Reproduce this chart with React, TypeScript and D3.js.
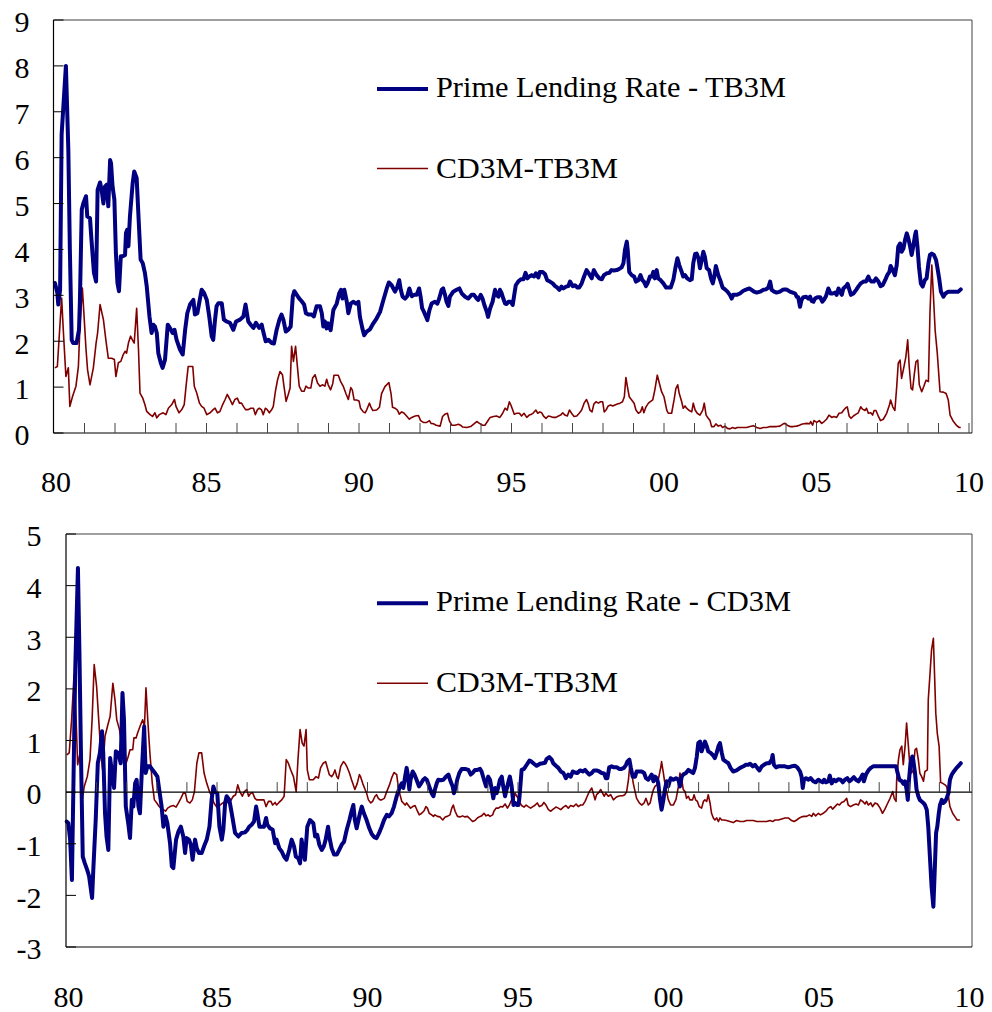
import React from 'react';
import * as d3 from 'd3';

type P = [number, number];

// x = years since January 1980, y = percentage points
const primeMinusTb3m: P[] = [
  [0.03,3.27],[0.11,3.05],[0.14,2.8],[0.20,3.12],[0.25,6.5],[0.39,8.0],[0.47,6.17],[0.52,4.0],[0.58,2.03],[0.63,1.96],[0.74,1.96],[0.82,2.25],[0.85,2.9],[0.91,4.87],[0.96,5.0],[1.05,5.16],[1.09,4.72],[1.18,4.68],[1.23,4.2],[1.31,3.49],[1.38,3.3],[1.43,5.3],[1.51,5.46],[1.56,5.3],[1.62,5.0],[1.67,5.37],[1.73,5.41],[1.78,4.94],[1.84,5.95],[1.87,5.88],[1.92,5.37],[1.98,5.08],[2.03,3.92],[2.08,3.27],[2.13,3.09],[2.19,3.85],[2.25,3.85],[2.33,3.88],[2.36,4.36],[2.40,4.43],[2.44,4.07],[2.49,4.72],[2.58,5.45],[2.63,5.7],[2.71,5.56],[2.77,4.72],[2.84,3.78],[2.91,3.7],[2.98,3.49],[3.04,3.2],[3.13,2.54],[3.20,2.18],[3.26,2.36],[3.31,2.32],[3.37,2.18],[3.42,1.74],[3.50,1.53],[3.56,1.42],[3.64,1.6],[3.73,2.36],[3.80,2.29],[3.89,2.18],[3.95,2.25],[4.02,2.03],[4.13,1.82],[4.22,1.71],[4.30,2.25],[4.37,2.61],[4.46,2.8],[4.57,2.9],[4.62,2.58],[4.70,2.61],[4.77,2.87],[4.84,3.12],[4.92,3.05],[5.01,2.9],[5.09,2.54],[5.17,2.11],[5.22,2.03],[5.28,2.47],[5.33,2.76],[5.39,2.83],[5.50,2.83],[5.57,2.47],[5.66,2.43],[5.77,2.40],[5.88,2.25],[5.97,2.43],[6.10,2.47],[6.21,2.54],[6.28,2.80],[6.37,2.43],[6.45,2.36],[6.54,2.29],[6.62,2.40],[6.73,2.29],[6.81,2.36],[6.86,2.21],[6.94,2.00],[7.03,2.03],[7.08,2.00],[7.14,1.96],[7.21,1.95],[7.30,2.25],[7.39,2.47],[7.46,2.58],[7.52,2.47],[7.60,2.21],[7.68,2.25],[7.76,2.32],[7.83,2.98],[7.88,3.09],[7.96,3.01],[8.03,2.94],[8.12,2.87],[8.20,2.80],[8.26,2.61],[8.34,2.58],[8.45,2.58],[8.52,2.54],[8.61,2.76],[8.72,2.76],[8.78,2.61],
  [8.83,2.32],[8.88,2.43],[8.94,2.28],[8.99,2.39],[9.07,2.24],[9.16,2.68],[9.27,2.82],[9.35,3.04],[9.41,3.12],[9.46,2.93],[9.52,3.12],[9.60,2.86],[9.65,2.61],[9.73,2.82],[9.81,2.86],[9.90,2.82],[9.98,2.86],[10.03,2.53],[10.11,2.28],[10.17,2.13],[10.25,2.21],[10.36,2.26],[10.47,2.39],[10.58,2.5],[10.69,2.64],[10.80,2.90],[10.91,3.15],[10.98,3.28],[11.07,3.22],[11.18,3.08],[11.26,3.19],[11.32,3.33],[11.37,3.12],[11.43,2.97],[11.51,2.93],[11.58,2.98],[11.65,3.15],[11.73,2.98],[11.81,3.01],[11.89,3.01],[11.97,3.15],[12.02,2.97],[12.07,2.72],[12.13,2.64],[12.20,2.53],[12.24,2.46],[12.31,2.68],[12.38,2.82],[12.49,2.86],[12.57,2.82],[12.63,2.93],[12.71,3.12],[12.76,3.15],[12.82,3.01],[12.87,2.86],[12.93,2.77],[12.98,2.97],[13.09,3.08],[13.20,3.12],[13.29,3.15],[13.37,3.04],[13.48,2.97],[13.58,2.93],[13.69,3.01],[13.77,3.01],[13.86,2.93],[13.91,2.90],[13.99,3.01],[14.05,2.93],[14.11,2.79],[14.19,2.64],[14.23,2.53],[14.30,2.72],[14.38,2.86],[14.46,3.12],[14.51,3.01],[14.57,2.97],[14.62,3.12],[14.68,3.04],[14.73,2.93],[14.79,2.82],[14.84,2.81],[14.90,2.86],[14.97,2.86],[15.04,2.79],[15.09,3.01],[15.14,3.22],[15.22,3.30],[15.31,3.35],[15.39,3.35],[15.46,3.49],[15.52,3.37],[15.58,3.41],[15.66,3.44],[15.74,3.41],[15.80,3.48],[15.88,3.39],[15.93,3.51],[16.02,3.51],[16.10,3.46],[16.17,3.33],[16.26,3.30],[16.35,3.26],[16.43,3.20],[16.50,3.17],[16.57,3.12],[16.64,3.19],[16.70,3.15],[16.79,3.19],[16.86,3.20],[16.92,3.30],[17.01,3.20],[17.08,3.22],[17.16,3.17],[17.22,3.17],[17.30,3.26],[17.38,3.41],[17.46,3.55],[17.55,3.46],[17.63,3.37],[17.70,3.55],[17.79,3.44],[17.88,3.37],[17.96,3.35],[18.03,3.44],[18.12,3.48],[18.21,3.49],[18.28,3.55],[18.36,3.54],[18.45,3.55],[18.52,3.57],[18.61,3.61],[18.67,3.70],[18.72,3.99],[18.78,4.17],[18.81,3.99],[18.86,3.51],[18.94,3.44],[19.02,3.41],[19.08,3.30],[19.16,3.33],[19.23,3.44],[19.29,3.33],[19.34,3.30],[19.41,3.20],[19.46,3.26],[19.54,3.41],
  [19.60,3.41],[19.65,3.51],[19.70,3.37],[19.76,3.55],[19.81,3.37],[19.89,3.33],[19.98,3.26],[20.07,3.17],[20.14,3.17],[20.22,3.17],[20.31,3.35],[20.38,3.62],[20.44,3.81],[20.50,3.66],[20.58,3.51],[20.63,3.41],[20.69,3.44],[20.76,3.37],[20.85,3.33],[20.91,3.35],[20.96,3.70],[21.02,3.90],[21.07,3.91],[21.13,3.81],[21.18,3.59],[21.235,3.77],[21.29,3.95],[21.34,3.84],[21.40,3.59],[21.48,3.55],[21.54,3.37],[21.60,3.26],[21.65,3.41],[21.70,3.64],[21.78,3.44],[21.86,3.30],[21.92,3.17],[22.00,3.13],[22.08,3.08],[22.16,3.01],[22.22,2.93],[22.27,3.01],[22.38,3.01],[22.49,3.04],[22.60,3.10],[22.71,3.13],[22.80,3.15],[22.87,3.12],[22.95,3.08],[23.04,3.06],[23.15,3.08],[23.26,3.12],[23.34,3.13],[23.42,3.17],[23.48,3.30],[23.53,3.12],[23.61,3.08],[23.69,3.06],[23.80,3.08],[23.89,3.12],[23.97,3.13],[24.04,3.12],[24.13,3.08],[24.22,3.06],[24.30,3.04],[24.35,2.97],[24.40,2.96],[24.46,2.75],[24.51,2.90],[24.57,2.96],[24.66,2.97],[24.73,2.93],[24.79,2.97],[24.84,2.88],[24.90,2.86],[24.95,2.93],[25.03,2.96],[25.12,2.96],[25.19,2.86],[25.25,2.91],[25.31,2.98],[25.39,3.15],[25.46,3.04],[25.53,3.04],[25.61,3.06],[25.66,3.01],[25.72,3.15],[25.77,3.08],[25.83,3.01],[25.88,3.15],[25.97,3.20],[26.02,3.25],[26.08,3.12],[26.13,3.01],[26.21,3.04],[26.30,3.12],[26.37,3.19],[26.45,3.26],[26.54,3.30],[26.62,3.30],[26.70,3.41],[26.75,3.33],[26.81,3.30],[26.88,3.30],[26.95,3.37],[27.03,3.30],[27.10,3.20],[27.17,3.22],[27.25,3.33],[27.32,3.44],[27.39,3.51],[27.43,3.64],[27.50,3.55],[27.57,3.44],[27.63,3.66],[27.68,4.06],[27.74,4.13],[27.79,3.95],[27.85,4.02],[27.90,4.20],[27.96,4.35],[28.01,4.24],[28.07,4.06],[28.12,3.88],[28.17,4.06],[28.23,4.31],[28.26,4.39],[28.31,4.06],[28.36,3.62],[28.42,3.26],[28.48,3.19],[28.55,3.33],[28.61,3.37],[28.67,3.70],[28.72,3.88],[28.78,3.91],[28.85,3.88],[28.92,3.77],[28.96,3.62],[29.03,3.33],[29.08,3.08],[29.16,2.97],[29.23,3.04],[29.32,3.08],[29.43,3.08],[29.54,3.08],[29.65,3.08],[29.73,3.13],
];

const cdMinusTb3mTop: P[] = [
  [0.03,1.42],[0.11,1.45],[0.25,2.94],[0.31,2.18],[0.39,1.23],[0.47,1.42],[0.52,0.58],[0.61,0.8],[0.72,1.02],[0.80,1.45],[0.85,2.32],[0.93,3.16],[0.98,2.61],[1.05,1.82],[1.10,1.38],[1.18,1.05],[1.29,1.42],[1.38,1.96],[1.43,2.18],[1.51,2.8],[1.62,2.47],[1.70,2.03],[1.78,1.63],[1.89,1.63],[1.98,1.6],[2.03,1.23],[2.11,1.53],[2.19,1.56],[2.27,1.71],[2.33,1.78],[2.38,1.74],[2.44,1.96],[2.51,2.11],[2.57,2.03],[2.63,1.96],[2.71,2.72],[2.77,1.82],[2.82,0.87],[2.91,0.76],[2.98,0.62],[3.04,0.47],[3.15,0.4],[3.23,0.36],[3.31,0.44],[3.37,0.33],[3.45,0.4],[3.58,0.44],[3.67,0.40],[3.75,0.54],[3.86,0.62],[3.95,0.73],[4.00,0.58],[4.10,0.44],[4.19,0.51],[4.27,0.62],[4.33,1.02],[4.40,1.45],[4.55,1.45],[4.60,1.02],[4.68,0.87],[4.77,0.65],[4.84,0.58],[4.92,0.54],[5.01,0.40],[5.12,0.44],[5.22,0.51],[5.28,0.54],[5.36,0.44],[5.44,0.47],[5.53,0.62],[5.61,0.73],[5.68,0.84],[5.77,0.73],[5.85,0.62],[5.93,0.73],[6.01,0.76],[6.08,0.65],[6.15,0.65],[6.21,0.58],[6.28,0.51],[6.37,0.51],[6.45,0.54],[6.54,0.54],[6.60,0.40],[6.67,0.51],[6.73,0.54],[6.80,0.51],[6.86,0.40],[6.93,0.54],[6.99,0.51],[7.06,0.44],[7.14,0.51],[7.19,0.58],[7.26,0.91],[7.33,1.16],[7.41,1.34],[7.49,1.27],[7.54,1.02],[7.61,0.69],[7.68,0.84],[7.74,0.98],[7.79,1.89],[7.85,1.56],[7.92,1.89],[7.99,1.38],[8.04,1.02],[8.12,0.91],[8.20,0.91],[8.26,1.02],[8.34,0.98],[8.42,0.98],[8.48,1.2],[8.56,1.27],[8.64,1.09],[8.72,1.02],
  [8.81,1.05],[8.88,1.02],[8.94,1.17],[8.99,1.05],[9.07,0.94],[9.14,1.08],[9.18,1.26],[9.32,1.26],[9.40,1.12],[9.49,1.01],[9.57,0.86],[9.65,0.73],[9.73,0.99],[9.78,0.94],[9.84,0.72],[9.92,0.72],[10.00,0.70],[10.05,0.54],[10.14,0.46],[10.20,0.44],[10.25,0.50],[10.34,0.65],[10.39,0.57],[10.45,0.49],[10.58,0.50],[10.67,0.56],[10.74,0.86],[10.85,1.01],[10.98,1.10],[11.05,0.86],[11.10,0.56],[11.18,0.54],[11.26,0.50],[11.32,0.41],[11.40,0.46],[11.48,0.43],[11.56,0.37],[11.65,0.30],[11.73,0.34],[11.84,0.37],[11.95,0.38],[12.02,0.27],[12.11,0.23],[12.22,0.23],[12.31,0.27],[12.36,0.21],[12.44,0.20],[12.53,0.17],[12.66,0.15],[12.74,0.36],[12.82,0.41],[12.90,0.43],[12.96,0.27],[13.04,0.17],[13.15,0.17],[13.26,0.19],[13.33,0.17],[13.40,0.13],[13.53,0.12],[13.66,0.14],[13.77,0.20],[13.86,0.25],[13.95,0.21],[14.05,0.17],[14.13,0.17],[14.21,0.25],[14.30,0.34],[14.41,0.36],[14.51,0.37],[14.62,0.34],[14.71,0.43],[14.79,0.54],[14.86,0.50],[14.93,0.68],[14.98,0.61],[15.04,0.50],[15.09,0.41],[15.17,0.43],[15.26,0.43],[15.33,0.37],[15.41,0.43],[15.50,0.34],[15.58,0.39],[15.66,0.41],[15.72,0.44],[15.80,0.50],[15.86,0.43],[15.93,0.46],[15.99,0.44],[16.06,0.36],[16.13,0.32],[16.21,0.37],[16.28,0.36],[16.37,0.34],[16.46,0.34],[16.54,0.37],[16.61,0.39],[16.68,0.44],[16.75,0.39],[16.83,0.37],[16.90,0.50],[16.97,0.43],[17.05,0.36],[17.14,0.37],[17.22,0.43],[17.30,0.50],[17.38,0.65],[17.46,0.73],[17.52,0.63],[17.57,0.50],[17.64,0.46],[17.70,0.63],[17.77,0.68],[17.85,0.65],[17.92,0.68],[17.99,0.68],[18.04,0.46],[18.10,0.50],[18.17,0.59],[18.25,0.61],[18.32,0.59],[18.39,0.61],[18.47,0.63],[18.56,0.65],[18.64,0.68],[18.70,0.79],[18.75,1.21],[18.80,1.01],[18.86,0.79],[18.94,0.72],[19.02,0.65],[19.08,0.50],[19.16,0.43],[19.23,0.46],[19.29,0.57],[19.34,0.44],[19.41,0.57],[19.49,0.65],
  [19.54,0.68],[19.63,0.72],[19.70,0.94],[19.78,1.26],[19.85,1.08],[19.92,0.90],[20.00,0.79],[20.09,0.50],[20.14,0.43],[20.25,0.43],[20.33,0.72],[20.39,0.97],[20.45,1.05],[20.50,0.86],[20.58,0.68],[20.63,0.54],[20.69,0.59],[20.74,0.54],[20.83,0.49],[20.91,0.46],[20.96,0.65],[21.02,0.50],[21.09,0.43],[21.18,0.39],[21.27,0.50],[21.32,0.65],[21.38,0.39],[21.45,0.32],[21.51,0.27],[21.56,0.14],[21.64,0.14],[21.70,0.20],[21.78,0.15],[21.86,0.17],[21.92,0.12],[22.00,0.15],[22.08,0.10],[22.16,0.09],[22.25,0.12],[22.33,0.10],[22.40,0.12],[22.49,0.12],[22.60,0.12],[22.71,0.12],[22.82,0.14],[22.93,0.16],[23.04,0.12],[23.15,0.10],[23.26,0.12],[23.37,0.12],[23.48,0.14],[23.58,0.14],[23.69,0.14],[23.80,0.15],[23.91,0.20],[23.97,0.21],[24.04,0.17],[24.13,0.14],[24.24,0.14],[24.35,0.15],[24.44,0.17],[24.51,0.19],[24.59,0.20],[24.68,0.21],[24.77,0.20],[24.81,0.25],[24.87,0.17],[24.92,0.27],[25.01,0.23],[25.09,0.27],[25.17,0.21],[25.25,0.25],[25.33,0.30],[25.41,0.39],[25.50,0.34],[25.57,0.36],[25.66,0.34],[25.74,0.43],[25.83,0.44],[25.88,0.49],[25.96,0.55],[26.01,0.57],[26.07,0.37],[26.13,0.32],[26.21,0.37],[26.30,0.41],[26.37,0.44],[26.45,0.57],[26.51,0.52],[26.59,0.49],[26.64,0.54],[26.70,0.43],[26.78,0.44],[26.84,0.39],[26.89,0.49],[26.95,0.49],[27.03,0.36],[27.10,0.27],[27.19,0.30],[27.30,0.43],[27.39,0.61],[27.43,0.72],[27.50,0.57],[27.57,0.49],[27.63,1.01],[27.68,1.52],[27.74,1.59],[27.79,1.19],[27.87,1.45],[27.93,1.66],[27.99,2.03],[28.04,1.45],[28.10,0.97],[28.15,0.94],[28.21,1.30],[28.26,1.55],[28.32,1.59],[28.37,1.05],[28.45,0.90],[28.52,1.02],[28.59,1.15],[28.67,1.12],[28.72,2.61],[28.78,3.66],[28.83,3.04],[28.89,2.24],[28.96,1.74],[29.05,0.90],[29.16,0.89],[29.25,0.86],[29.32,0.72],[29.38,0.39],[29.49,0.25],[29.60,0.16],[29.68,0.12],[29.73,0.12],
];

const primeMinusCd3m: P[] = [
  [0.01,-0.57],[0.06,-0.60],[0.12,-0.92],[0.18,-1.70],[0.29,2.37],[0.38,4.34],[0.43,2.69],[0.48,0.76],[0.54,-1.25],[0.61,-1.38],[0.69,-1.51],[0.75,-1.63],[0.85,-2.05],[0.89,-1.51],[0.97,-0.54],[1.04,0.56],[1.11,0.76],[1.18,1.18],[1.22,0.76],[1.28,-0.41],[1.33,-0.86],[1.39,-1.12],[1.45,0.66],[1.50,0.43],[1.58,0.08],[1.64,0.79],[1.72,0.76],[1.80,0.56],[1.86,1.92],[1.91,1.40],[1.97,-0.28],[2.05,-0.60],[2.11,-0.89],[2.17,-0.15],[2.22,-0.28],[2.28,0.17],[2.33,0.24],[2.39,-0.28],[2.44,-0.41],[2.50,0.37],[2.58,1.27],[2.63,0.37],[2.69,0.50],[2.77,0.50],[2.86,0.43],[2.94,0.37],[3.02,0.30],[3.08,0.05],[3.16,-0.28],[3.22,-0.67],[3.29,-0.47],[3.35,-0.60],[3.44,-0.99],[3.50,-1.44],[3.55,-1.47],[3.64,-0.92],[3.72,-0.76],[3.80,-0.67],[3.88,-0.86],[3.94,-1.18],[3.99,-0.89],[4.07,-0.92],[4.13,-1.02],[4.19,-1.31],[4.27,-0.92],[4.33,-1.09],[4.40,-1.18],[4.49,-1.18],[4.57,-1.05],[4.66,-0.92],[4.75,-0.67],[4.82,-0.15],[4.88,0.11],[4.93,0.01],[5.01,-0.02],[5.08,-0.67],[5.16,-0.92],[5.21,-0.73],[5.27,-0.21],[5.32,-0.08],[5.41,-0.15],[5.49,-0.41],[5.60,-0.79],[5.71,-0.86],[5.82,-0.79],[5.93,-0.78],[6.01,-0.73],[6.07,-0.67],[6.15,-0.63],[6.23,-0.57],[6.30,-0.28],[6.34,-0.41],[6.41,-0.67],[6.48,-0.67],[6.56,-0.67],[6.63,-0.50],[6.67,-0.63],[6.76,-0.70],[6.85,-0.73],[6.93,-0.99],[6.98,-0.92],[7.07,-1.09],[7.15,-1.15],[7.23,-1.25],[7.31,-1.31],[7.40,-1.12],[7.48,-0.92],[7.56,-1.05],[7.62,-1.25],[7.70,-1.28],[7.76,-1.38],[7.81,-0.92],[7.87,-1.18],[7.92,-1.31],[8.00,-0.67],[8.09,-0.54],[8.20,-0.60],[8.26,-0.86],[8.33,-0.83],[8.40,-1.02],[8.48,-1.12],[8.55,-1.05],[8.61,-0.92],[8.69,-0.67],
  [8.73,-0.86],[8.81,-1.09],[8.89,-1.21],[8.98,-1.21],[9.06,-1.12],[9.14,-1.02],[9.22,-0.96],[9.31,-0.73],[9.40,-0.54],[9.47,-0.37],[9.53,-0.25],[9.58,-0.54],[9.64,-0.70],[9.70,-0.54],[9.75,-0.41],[9.81,-0.28],[9.88,-0.41],[9.97,-0.54],[10.06,-0.70],[10.14,-0.81],[10.22,-0.87],[10.30,-0.89],[10.38,-0.80],[10.47,-0.67],[10.55,-0.54],[10.64,-0.44],[10.71,-0.47],[10.80,-0.41],[10.88,-0.28],[10.97,-0.08],[11.02,0.01],[11.08,0.11],[11.14,0.17],[11.19,0.08],[11.25,0.30],[11.30,0.47],[11.33,0.37],[11.39,0.05],[11.43,0.24],[11.50,0.40],[11.56,0.34],[11.63,0.24],[11.71,0.11],[11.78,0.17],[11.85,0.24],[11.91,0.27],[11.97,0.24],[12.05,0.11],[12.13,-0.02],[12.19,-0.08],[12.24,0.05],[12.30,0.17],[12.35,0.24],[12.43,0.23],[12.52,0.24],[12.61,0.30],[12.69,0.34],[12.76,0.21],[12.83,0.11],[12.87,-0.02],[12.94,0.11],[12.98,0.24],[13.05,0.37],[13.13,0.45],[13.24,0.45],[13.35,0.43],[13.43,0.34],[13.49,0.37],[13.57,0.43],[13.65,0.43],[13.74,0.45],[13.79,0.40],[13.87,0.24],[13.94,0.11],[14.01,0.30],[14.07,0.24],[14.13,0.05],[14.18,-0.12],[14.24,0.08],[14.29,-0.02],[14.35,0.11],[14.40,0.24],[14.46,0.30],[14.51,0.11],[14.57,-0.08],[14.62,0.05],[14.70,0.24],[14.73,0.30],[14.79,0.11],[14.85,-0.25],[14.90,-0.21],[14.96,-0.25],[15.01,-0.25],[15.04,-0.15],[15.07,0.05],[15.12,0.43],[15.20,0.45],[15.29,0.53],[15.38,0.61],[15.45,0.59],[15.53,0.55],[15.62,0.51],[15.73,0.55],[15.82,0.56],[15.90,0.57],[15.95,0.64],[16.04,0.68],[16.12,0.63],[16.17,0.56],[16.26,0.51],[16.34,0.47],[16.42,0.40],[16.51,0.37],[16.59,0.27],[16.67,0.34],[16.75,0.30],[16.82,0.40],[16.89,0.38],[16.97,0.37],[17.06,0.42],[17.15,0.40],[17.23,0.43],[17.30,0.38],[17.37,0.34],[17.45,0.37],[17.52,0.42],[17.61,0.42],[17.70,0.40],[17.78,0.37],[17.86,0.36],[17.92,0.27],[17.97,0.27],[18.03,0.48],[18.11,0.50],[18.19,0.48],[18.28,0.48],[18.37,0.45],[18.44,0.45],[18.52,0.47],[18.59,0.53],[18.63,0.59],[18.70,0.63],[18.75,0.47],[18.81,0.30],[18.89,0.30],[18.94,0.40],[19.03,0.40],[19.11,0.40],[19.19,0.37],[19.25,0.27],[19.33,0.24],
  [19.44,0.34],[19.50,0.21],[19.55,0.30],[19.61,0.27],[19.66,0.17],[19.72,-0.15],[19.77,-0.34],[19.83,-0.15],[19.88,0.05],[19.94,0.21],[19.99,0.11],[20.07,0.27],[20.16,0.24],[20.25,0.27],[20.33,0.24],[20.38,0.11],[20.44,0.30],[20.49,0.34],[20.58,0.37],[20.66,0.43],[20.74,0.40],[20.82,0.37],[20.88,0.47],[20.94,0.69],[20.99,0.95],[21.05,0.98],[21.10,0.79],[21.16,0.89],[21.21,0.98],[21.27,0.89],[21.32,0.79],[21.40,0.76],[21.47,0.72],[21.54,0.66],[21.60,0.76],[21.66,0.89],[21.71,0.95],[21.77,0.76],[21.82,0.63],[21.91,0.59],[21.99,0.56],[22.06,0.47],[22.15,0.40],[22.26,0.42],[22.38,0.47],[22.49,0.50],[22.57,0.53],[22.65,0.53],[22.71,0.55],[22.80,0.50],[22.87,0.53],[22.95,0.47],[23.02,0.42],[23.10,0.50],[23.17,0.53],[23.26,0.56],[23.35,0.56],[23.43,0.63],[23.46,0.72],[23.50,0.53],[23.57,0.48],[23.65,0.50],[23.76,0.50],[23.87,0.50],[23.98,0.48],[24.09,0.50],[24.20,0.51],[24.28,0.48],[24.37,0.40],[24.42,0.30],[24.46,0.08],[24.50,0.24],[24.57,0.27],[24.64,0.24],[24.72,0.27],[24.81,0.21],[24.89,0.19],[24.98,0.24],[25.05,0.21],[25.12,0.19],[25.17,0.24],[25.23,0.19],[25.31,0.21],[25.36,0.32],[25.42,0.17],[25.50,0.24],[25.56,0.21],[25.64,0.25],[25.72,0.24],[25.79,0.19],[25.86,0.24],[25.94,0.27],[26.01,0.21],[26.08,0.24],[26.16,0.29],[26.23,0.24],[26.31,0.21],[26.38,0.27],[26.45,0.34],[26.49,0.21],[26.56,0.34],[26.64,0.42],[26.72,0.47],[26.80,0.50],[26.92,0.50],[27.03,0.50],[27.14,0.50],[27.25,0.50],[27.36,0.50],[27.47,0.50],[27.56,0.50],[27.60,0.40],[27.67,0.24],[27.75,0.21],[27.80,0.16],[27.86,0.21],[27.91,0.05],[27.95,-0.15],[27.99,0.24],[28.04,0.56],[28.10,0.69],[28.13,0.63],[28.19,0.37],[28.24,0.05],[28.30,-0.08],[28.35,-0.15],[28.41,-0.18],[28.47,-0.21],[28.52,-0.25],[28.58,-0.34],[28.63,-0.67],[28.69,-1.31],[28.74,-1.83],[28.80,-2.22],[28.85,-1.44],[28.89,-0.79],[28.93,-0.67],[28.98,-0.41],[29.02,-0.25],[29.08,-0.15],[29.13,-0.21],[29.19,-0.18],[29.24,-0.12],[29.30,-0.02],[29.35,0.24],[29.41,0.34],[29.48,0.40],[29.57,0.47],[29.64,0.51],[29.71,0.56],
];

const cdMinusTb3mBottom: P[] = [
  [0.01,0.72],[0.09,0.76],[0.17,1.40],[0.25,2.27],[0.32,1.40],[0.37,0.53],[0.45,0.76],[0.53,-0.12],[0.59,0.11],[0.69,0.30],[0.78,0.63],[0.85,1.40],[0.92,2.47],[1.00,2.05],[1.07,1.40],[1.14,0.76],[1.20,0.43],[1.28,1.08],[1.36,1.27],[1.45,1.47],[1.54,2.11],[1.61,1.79],[1.67,1.40],[1.76,1.21],[1.83,0.95],[1.91,0.95],[1.98,0.56],[2.05,0.69],[2.11,0.82],[2.20,0.82],[2.24,1.05],[2.31,1.05],[2.36,1.14],[2.44,1.27],[2.53,1.40],[2.59,1.27],[2.64,2.02],[2.70,1.40],[2.77,0.76],[2.85,0.17],[2.92,-0.15],[3.00,-0.21],[3.08,-0.28],[3.22,-0.34],[3.29,-0.37],[3.36,-0.31],[3.44,-0.28],[3.55,-0.26],[3.64,-0.29],[3.72,-0.21],[3.80,-0.12],[3.88,-0.02],[3.95,-0.02],[4.01,-0.18],[4.10,-0.21],[4.18,-0.15],[4.25,0.01],[4.33,0.56],[4.40,0.76],[4.49,0.76],[4.57,0.37],[4.66,0.17],[4.75,0.01],[4.82,-0.08],[4.90,-0.21],[4.99,-0.29],[5.10,-0.25],[5.19,-0.21],[5.29,-0.18],[5.38,-0.21],[5.47,-0.15],[5.54,-0.08],[5.62,-0.05],[5.69,0.14],[5.76,0.01],[5.84,-0.08],[5.91,0.01],[5.99,0.05],[6.05,-0.08],[6.12,-0.02],[6.18,-0.01],[6.26,-0.12],[6.32,-0.15],[6.40,-0.15],[6.48,-0.15],[6.56,-0.15],[6.63,-0.28],[6.71,-0.18],[6.79,-0.18],[6.85,-0.25],[6.93,-0.20],[6.98,-0.25],[7.06,-0.20],[7.15,-0.15],[7.23,-0.08],[7.30,0.63],[7.37,0.56],[7.45,0.43],[7.54,0.30],[7.63,0.01],[7.69,0.63],[7.76,1.21],[7.83,0.95],[7.89,0.89],[7.96,1.21],[8.00,0.43],[8.07,0.24],[8.20,0.24],[8.29,0.30],[8.37,0.27],[8.44,0.47],[8.53,0.56],[8.61,0.59],
  [8.73,0.34],[8.81,0.30],[8.86,0.34],[8.92,0.43],[8.98,0.30],[9.03,0.26],[9.11,0.50],[9.20,0.59],[9.25,0.56],[9.31,0.50],[9.40,0.37],[9.47,0.24],[9.53,0.14],[9.58,0.05],[9.66,0.17],[9.73,0.34],[9.77,0.30],[9.84,0.17],[9.92,0.05],[9.97,-0.02],[10.03,-0.15],[10.11,-0.21],[10.17,-0.18],[10.25,-0.08],[10.30,-0.05],[10.36,-0.12],[10.42,-0.15],[10.47,-0.15],[10.56,-0.12],[10.64,0.01],[10.73,0.14],[10.80,0.27],[10.88,0.38],[10.97,0.34],[11.02,0.11],[11.08,-0.05],[11.14,-0.18],[11.19,-0.21],[11.25,-0.25],[11.30,-0.21],[11.36,-0.26],[11.43,-0.31],[11.50,-0.28],[11.58,-0.26],[11.66,-0.37],[11.72,-0.44],[11.80,-0.41],[11.88,-0.36],[11.94,-0.28],[11.99,-0.31],[12.05,-0.41],[12.13,-0.44],[12.19,-0.47],[12.24,-0.44],[12.32,-0.47],[12.41,-0.48],[12.50,-0.54],[12.58,-0.48],[12.65,-0.47],[12.74,-0.44],[12.80,-0.31],[12.85,-0.25],[12.91,-0.37],[12.99,-0.47],[13.07,-0.48],[13.16,-0.46],[13.24,-0.48],[13.32,-0.47],[13.41,-0.52],[13.49,-0.57],[13.57,-0.55],[13.65,-0.50],[13.74,-0.47],[13.79,-0.46],[13.87,-0.41],[13.94,-0.46],[14.01,-0.44],[14.07,-0.47],[14.16,-0.44],[14.20,-0.37],[14.27,-0.31],[14.35,-0.31],[14.42,-0.28],[14.49,-0.29],[14.57,-0.23],[14.65,-0.31],[14.71,-0.25],[14.79,-0.15],[14.85,-0.18],[14.90,-0.02],[14.96,-0.08],[15.01,-0.12],[15.04,-0.18],[15.12,-0.26],[15.20,-0.29],[15.27,-0.25],[15.34,-0.28],[15.42,-0.31],[15.49,-0.28],[15.55,-0.26],[15.64,-0.21],[15.71,-0.28],[15.79,-0.26],[15.86,-0.20],[15.93,-0.25],[16.01,-0.34],[16.09,-0.37],[16.17,-0.33],[16.26,-0.29],[16.34,-0.31],[16.42,-0.34],[16.51,-0.29],[16.59,-0.26],[16.67,-0.31],[16.75,-0.26],[16.84,-0.28],[16.93,-0.23],[17.00,-0.28],[17.08,-0.25],[17.15,-0.25],[17.23,-0.18],[17.30,-0.08],[17.37,0.01],[17.45,0.08],[17.50,-0.02],[17.56,-0.15],[17.61,-0.05],[17.67,-0.02],[17.75,0.05],[17.81,-0.02],[17.86,-0.08],[17.92,-0.02],[18.00,-0.08],[18.08,-0.05],[18.17,-0.15],[18.26,-0.10],[18.33,-0.08],[18.41,-0.07],[18.48,-0.07],[18.55,-0.05],[18.61,0.01],[18.67,0.24],[18.72,0.56],[18.78,0.37],[18.83,0.17],[18.89,0.01],[18.94,-0.12],[19.03,-0.21],[19.11,-0.25],[19.19,-0.21],[19.25,-0.12],[19.33,-0.25],
  [19.39,-0.21],[19.44,-0.08],[19.50,0.05],[19.55,0.11],[19.61,0.14],[19.66,0.24],[19.74,0.47],[19.77,0.59],[19.83,0.37],[19.88,0.17],[19.94,0.01],[19.99,-0.14],[20.07,-0.25],[20.16,-0.25],[20.25,-0.14],[20.33,0.11],[20.38,0.37],[20.44,0.24],[20.49,0.05],[20.55,0.01],[20.60,-0.12],[20.66,-0.08],[20.71,-0.15],[20.80,-0.15],[20.85,-0.05],[20.90,-0.15],[20.96,-0.18],[21.02,-0.28],[21.10,-0.31],[21.16,-0.18],[21.21,-0.15],[21.27,-0.18],[21.32,-0.05],[21.38,-0.21],[21.43,-0.41],[21.49,-0.50],[21.54,-0.54],[21.60,-0.50],[21.66,-0.57],[21.71,-0.50],[21.77,-0.54],[21.84,-0.54],[21.93,-0.55],[22.04,-0.57],[22.15,-0.59],[22.26,-0.55],[22.38,-0.57],[22.49,-0.57],[22.60,-0.55],[22.71,-0.55],[22.82,-0.55],[22.93,-0.57],[23.04,-0.57],[23.15,-0.57],[23.26,-0.57],[23.37,-0.55],[23.46,-0.57],[23.54,-0.54],[23.65,-0.54],[23.76,-0.52],[23.87,-0.50],[23.98,-0.50],[24.09,-0.55],[24.17,-0.57],[24.26,-0.54],[24.35,-0.50],[24.42,-0.48],[24.50,-0.47],[24.59,-0.47],[24.68,-0.44],[24.76,-0.47],[24.81,-0.41],[24.89,-0.46],[24.98,-0.41],[25.05,-0.44],[25.14,-0.41],[25.23,-0.37],[25.31,-0.31],[25.39,-0.28],[25.45,-0.33],[25.53,-0.28],[25.61,-0.23],[25.68,-0.25],[25.75,-0.20],[25.83,-0.18],[25.92,-0.12],[25.97,-0.25],[26.05,-0.28],[26.14,-0.25],[26.23,-0.23],[26.31,-0.25],[26.38,-0.15],[26.45,-0.18],[26.53,-0.23],[26.58,-0.18],[26.64,-0.25],[26.72,-0.21],[26.78,-0.28],[26.86,-0.21],[26.94,-0.23],[27.03,-0.31],[27.11,-0.41],[27.19,-0.33],[27.27,-0.23],[27.36,-0.12],[27.45,0.01],[27.50,-0.12],[27.56,-0.18],[27.58,0.24],[27.64,0.63],[27.69,0.82],[27.75,0.89],[27.80,0.53],[27.86,0.89],[27.91,1.34],[27.97,0.89],[28.02,0.50],[28.08,0.37],[28.13,0.43],[28.19,0.82],[28.24,0.85],[28.30,0.63],[28.35,0.37],[28.41,0.30],[28.47,0.21],[28.52,0.40],[28.60,0.43],[28.63,1.79],[28.69,2.31],[28.74,2.76],[28.80,2.98],[28.83,2.44],[28.88,1.53],[28.93,1.14],[28.99,0.89],[29.04,0.19],[29.11,0.17],[29.19,0.14],[29.24,0.11],[29.30,-0.08],[29.35,-0.28],[29.44,-0.41],[29.52,-0.48],[29.59,-0.54],[29.68,-0.54],
];

const yearTicks = d3.range(1, 31); // yearly tick marks after Jan 1980
const yearLabelOffsets = [0, 5, 10, 15, 20, 25, 30];
const yearLabels = ['80', '85', '90', '95', '00', '05', '10'];
const topValueTicks = [0, 1, 2, 3, 4, 5, 6, 7, 8, 9];
const bottomValueTicks = [-3, -2, -1, 0, 1, 2, 3, 4, 5];

const BLUE = '#000080';
const RED = '#800000';
const FONT = '"Liberation Serif", "Times New Roman", serif';

interface PanelProps {
  blue: P[];
  red: P[];
  blueLabel: string;
  redLabel: string;
  blueLabelWidth: number;
  redLabelWidth: number;
  yDomain: [number, number];
  yTicks: number[];
  left: number;
  right: number;
  top: number;
  bottom: number;
  xStart: number;
  xEnd: number;
  labelEndX: number;
  xLabelBaseline: number;
  legendBlueY: number;
  legendRedY: number;
}

function Panel(p: PanelProps) {
  const x = d3.scaleLinear().domain([0, 30]).range([p.xStart, p.xEnd]);
  const y = d3.scaleLinear().domain(p.yDomain).range([p.bottom, p.top]);
  const line = d3
    .line<P>()
    .x((d) => x(d[0]))
    .y((d) => y(d[1]));
  const y0 = y(0);
  return (
    <g>
      {/* frame: top and right borders */}
      <line x1={p.left} x2={p.right} y1={p.top} y2={p.top} stroke="#404040" strokeWidth={1} />
      <line x1={p.right} x2={p.right} y1={p.top} y2={p.bottom} stroke="#404040" strokeWidth={1} />
      {p.yDomain[0] < 0 && (
        <line x1={p.left} x2={p.right} y1={p.bottom} y2={p.bottom} stroke="#000" strokeWidth={1} />
      )}
      {/* series */}
      <path d={line(p.red) || ''} fill="none" stroke={RED} strokeWidth={1.6} strokeLinejoin="round" />
      <path d={line(p.blue) || ''} fill="none" stroke={BLUE} strokeWidth={4} strokeLinejoin="round" strokeLinecap="round" />
      {/* y axis */}
      <line x1={p.left} x2={p.left} y1={p.top} y2={p.bottom} stroke="#000" strokeWidth={1.2} />
      {p.yTicks.map((t) => (
        <g key={'yt' + t}>
          <line x1={p.left} x2={p.left + 10} y1={y(t)} y2={y(t)} stroke="#000" strokeWidth={1} />
          <text x={p.labelEndX} y={y(t)} dy="0.41em" textAnchor="end" fontFamily={FONT} fontSize={30} fill="#000">
            {t < 0 ? '-' + Math.abs(t) : String(t)}
          </text>
        </g>
      ))}
      {/* x axis at zero */}
      <line x1={p.left} x2={p.right} y1={y0} y2={y0} stroke="#000" strokeWidth={1.2} />
      {yearTicks.map((t) => (
        <line key={'xt' + t} x1={x(t)} x2={x(t)} y1={y0} y2={y0 - 10} stroke="#444" strokeWidth={1} />
      ))}
      {yearLabelOffsets.map((t, i) => (
        <text key={'xl' + t} x={x(t) + (t === 0 ? 2 : 0)} y={p.xLabelBaseline} textAnchor="middle" fontFamily={FONT} fontSize={30} fill="#000">
          {yearLabels[i]}
        </text>
      ))}
      {/* legend */}
      <line x1={377} x2={428} y1={p.legendBlueY} y2={p.legendBlueY} stroke={BLUE} strokeWidth={4} />
      <text x={436} y={p.legendBlueY + 7.5} fontFamily={FONT} fontSize={30} fill="#000" textLength={p.blueLabelWidth} lengthAdjust="spacingAndGlyphs">
        {p.blueLabel}
      </text>
      <line x1={377} x2={428} y1={p.legendRedY} y2={p.legendRedY} stroke={RED} strokeWidth={1.6} />
      <text x={436} y={p.legendRedY + 9} fontFamily={FONT} fontSize={30} fill="#000" textLength={p.redLabelWidth} lengthAdjust="spacingAndGlyphs">
        {p.redLabel}
      </text>
    </g>
  );
}

export default function App() {
  return (
    <div style={{ position: 'absolute', left: 0, top: 0, width: 992, height: 1012, background: '#fff' }}>
      <svg width={992} height={1012} viewBox="0 0 992 1012" style={{ display: 'block' }}>
        <rect x={0} y={0} width={992} height={1012} fill="#fff" />
        <Panel
          blue={primeMinusTb3m}
          red={cdMinusTb3mTop}
          blueLabel="Prime Lending Rate - TB3M"
          redLabel="CD3M-TB3M"
          blueLabelWidth={350}
          redLabelWidth={182}
          yDomain={[0, 9]}
          yTicks={topValueTicks}
          left={53.5}
          right={972}
          top={20}
          bottom={433}
          xStart={54}
          xEnd={969}
          labelEndX={29.5}
          xLabelBaseline={491.5}
          legendBlueY={89}
          legendRedY={168.5}
        />
        <Panel
          blue={primeMinusCd3m}
          red={cdMinusTb3mBottom}
          blueLabel="Prime Lending Rate - CD3M"
          redLabel="CD3M-TB3M"
          blueLabelWidth={355}
          redLabelWidth={182}
          yDomain={[-3, 5]}
          yTicks={bottomValueTicks}
          left={66}
          right={972}
          top={534}
          bottom={947}
          xStart={66.5}
          xEnd={969.5}
          labelEndX={41.5}
          xLabelBaseline={1006.5}
          legendBlueY={603.3}
          legendRedY={683.3}
        />
      </svg>
    </div>
  );
}
